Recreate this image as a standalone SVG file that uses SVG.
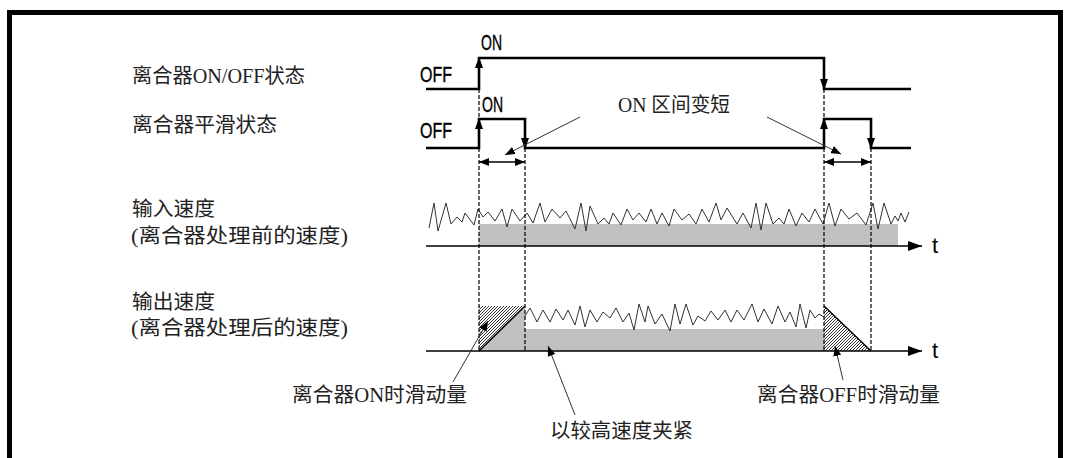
<svg xmlns="http://www.w3.org/2000/svg" width="1066" height="458" viewBox="0 0 1066 458">
<style>
.lbl{font-family:"Liberation Serif","Noto Sans CJK SC",serif;font-size:20px;fill:#222}
.sig{font-family:"Liberation Sans Narrow","Liberation Sans",sans-serif;font-size:22px;fill:#000;stroke:#000;stroke-width:0.4}
.tt{font-family:"Liberation Sans",sans-serif;font-size:22px;fill:#000}
.wave{fill:none;stroke:#000;stroke-width:2.6}
.dash{fill:none;stroke:#000;stroke-width:1.2;stroke-dasharray:4 2}
.noise{fill:none;stroke:#333;stroke-width:1}
.axis{fill:none;stroke:#000;stroke-width:1.5}
.lead{fill:none;stroke:#333;stroke-width:1}
.ah{fill:#000}
</style>
<defs>
<marker id="arr" viewBox="0 0 10 8" refX="10" refY="4" markerWidth="10" markerHeight="8" markerUnits="userSpaceOnUse" orient="auto-start-reverse"><path d="M0,0 L10,4 L0,8 z" fill="#000"/></marker>
<marker id="axarr" viewBox="0 0 14 10" refX="14" refY="5" markerWidth="14" markerHeight="10" markerUnits="userSpaceOnUse" orient="auto"><path d="M0,0 L14,5 L0,10 z" fill="#000"/></marker>
<pattern id="hatch" patternUnits="userSpaceOnUse" width="3" height="3"><rect width="3" height="3" fill="#fff"/><path d="M-1,1 L1,-1 M0,3 L3,0 M2,4 L4,2" stroke="#000" stroke-width="0.8"/></pattern>
</defs>
<rect width="1066" height="458" fill="#fff"/>
<path d="M9.5,470 V12.5 H1060.5 V470" fill="none" stroke="#000" stroke-width="5"/>

<g id="labels">
<text class="lbl" x="132" y="83" textLength="173" lengthAdjust="spacingAndGlyphs">离合器ON/OFF状态</text>
<text class="lbl" x="132" y="132" textLength="145" lengthAdjust="spacingAndGlyphs">离合器平滑状态</text>
<text class="lbl" x="132" y="216" textLength="83" lengthAdjust="spacingAndGlyphs">输入速度</text>
<text class="lbl" x="131" y="243" textLength="217" lengthAdjust="spacingAndGlyphs">(离合器处理前的速度)</text>
<text class="lbl" x="132" y="309" textLength="83" lengthAdjust="spacingAndGlyphs">输出速度</text>
<text class="lbl" x="131" y="335" textLength="217" lengthAdjust="spacingAndGlyphs">(离合器处理后的速度)</text>
</g>

<g id="clutch-onoff">
<path class="wave" d="M426,89 H479 V58 H824 V89 H911"/>
<polygon class="ah" points="479,57 475,68 483,68"/>
<polygon class="ah" points="824,90 820,79 828,79"/>
<text class="sig" x="481" y="50" textLength="21" lengthAdjust="spacingAndGlyphs">ON</text>
<text class="sig" x="420" y="82" textLength="32" lengthAdjust="spacingAndGlyphs">OFF</text>
</g>

<g id="clutch-smooth">
<path class="wave" d="M426,148 H479 V119 H525 V148 H824 V119 H871 V148 H911"/>
<polygon class="ah" points="479,118 475,129 483,129"/>
<polygon class="ah" points="525,149 521,138 529,138"/>
<polygon class="ah" points="824,118 820,129 828,129"/>
<polygon class="ah" points="871,149 867,138 875,138"/>
<text class="sig" x="482" y="111.5" textLength="21" lengthAdjust="spacingAndGlyphs">ON</text>
<text class="sig" x="420" y="138" textLength="32" lengthAdjust="spacingAndGlyphs">OFF</text>
</g>

<g id="input-speed">
<rect x="479" y="224" width="419" height="22" fill="#c0c0c0"/>
<polyline class="noise" points="429,228 434,203 438,231 446,203 451,224 457,217 462,222 465,213 474,225 478,209 483,217 488,212 495,221 502,209 507,227 512,209 520,221 527,213 533,223 540,203 545,222 552,209 560,218 566,211 575,229 581,203 586,231 590,206 598,224 604,218 609,224 613,213 621,225 627,209 633,220 639,213 646,222 651,209 657,224 662,213 669,226 674,209 682,220 689,214 696,224 702,209 709,222 716,203 721,220 727,208 737,224 743,213 751,228 756,203 761,230 766,203 773,224 779,218 784,224 789,209 796,226 802,213 809,222 815,209 823,224 829,203 835,226 841,209 849,219 857,213 866,225 873,203 878,229 884,203 891,224 895,216 898,221 901,213 905,222 909,212"/>
<path class="axis" d="M426,246 H922" marker-end="url(#axarr)"/>
<text class="tt" x="932" y="253">t</text>
</g>

<g id="output-speed">
<polygon points="479,351 525,306 525,329 824,329 824,351" fill="#c0c0c0"/>
<polygon points="479,306 525,306 479,351" fill="url(#hatch)"/>
<polygon points="824,306 871,351 824,351" fill="url(#hatch)"/>
<path d="M479,351 L525,306 M824,306 L871,351" stroke="#000" stroke-width="1.5" fill="none"/>
<polyline class="noise" points="525,316 530,308 537,322 543,310 550,322 556,309 563,320 568,310 575,325 580,306 585,327 590,310 597,322 603,312 610,318 616,308 623,322 629,313 634,330 639,304 645,322 648,306 655,324 662,314 670,331 675,304 680,324 686,304 693,325 698,316 705,321 711,311 718,320 725,310 731,322 737,310 744,320 752,304 758,322 764,309 772,324 778,306 785,322 790,312 796,327 800,304 806,328 810,310 815,318 819,314 824,317"/>
<path class="axis" d="M426,351 H922" marker-end="url(#axarr)"/>
<text class="tt" x="932" y="358">t</text>
</g>

<g id="timing-marks">
<path class="dash" d="M479,89 V119 M479,148 V351 M525,148 V351 M824,89 V119 M824,148 V351 M871,148 V351"/>
<line x1="479" y1="162" x2="525" y2="162" stroke="#000" stroke-width="1.5" marker-start="url(#arr)" marker-end="url(#arr)"/>
<line x1="824" y1="162" x2="871" y2="162" stroke="#000" stroke-width="1.5" marker-start="url(#arr)" marker-end="url(#arr)"/>
</g>

<g id="annotations">
<text class="lbl" x="618" y="112" textLength="112" lengthAdjust="spacingAndGlyphs">ON 区间变短</text>
<text class="lbl" x="292" y="402" textLength="175" lengthAdjust="spacingAndGlyphs">离合器ON时滑动量</text>
<text class="lbl" x="757" y="402" textLength="183" lengthAdjust="spacingAndGlyphs">离合器OFF时滑动量</text>
<text class="lbl" x="550" y="438" textLength="143" lengthAdjust="spacingAndGlyphs">以较高速度夹紧</text>
</g>

<g id="connectors">
<line class="lead" x1="580" y1="117" x2="505" y2="155" marker-end="url(#arr)"/>
<line class="lead" x1="767" y1="117" x2="841" y2="154" marker-end="url(#arr)"/>
<line class="lead" x1="453" y1="382" x2="488" y2="321" marker-end="url(#arr)"/>
<line class="lead" x1="575" y1="415" x2="548" y2="346" marker-end="url(#arr)"/>
<line class="lead" x1="843" y1="380" x2="835" y2="346" marker-end="url(#arr)"/>
</g>
</svg>
